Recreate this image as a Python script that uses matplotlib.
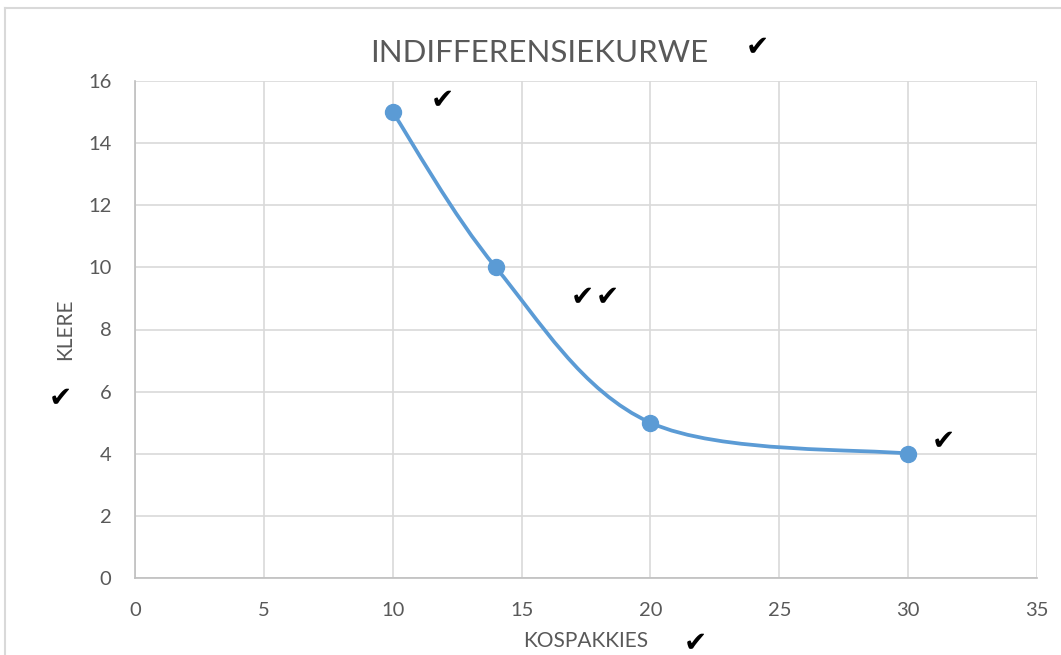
import matplotlib.pyplot as plt
import numpy as np
from matplotlib.path import Path
from matplotlib.patches import PathPatch
from matplotlib.lines import Line2D

# data
kospakkies = [10, 14, 20, 30]
klere = [15, 10, 5, 4]
x_ticks = [0, 5, 10, 15, 20, 25, 30, 35]
y_ticks = [0, 2, 4, 6, 8, 10, 12, 14, 16]

blue = '#5B9BD5'
grey_txt = '#595959'
grid_col = '#D9D9D9'
fam = ['Lato', 'DejaVu Sans']
plt.rcParams['font.family'] = fam

fig = plt.figure(figsize=(10.61, 6.55), dpi=100)
ax = fig.add_axes([135 / 1061, 1 - 578 / 655, (1037 - 135) / 1061, (578 - 81) / 655])

# smoothed line like excel (catmull-rom style bezier)
pts = np.column_stack([kospakkies, klere]).astype(float)
verts = [tuple(pts[0])]
codes = [Path.MOVETO]
n = len(pts)
for i in range(n - 1):
    p0 = pts[i - 1] if i > 0 else pts[i]
    p1 = pts[i]
    p2 = pts[i + 1]
    p3 = pts[i + 2] if i + 2 < n else pts[i + 1]
    c1 = p1 + (p2 - p0) / 6.0
    c2 = p2 - (p3 - p1) / 6.0
    verts += [tuple(c1), tuple(c2), tuple(p2)]
    codes += [Path.CURVE4] * 3
ax.add_patch(PathPatch(Path(verts, codes), facecolor='none', edgecolor=blue, lw=2.7, zorder=3))
ax.plot(kospakkies, klere, 'o', color=blue, ms=11.5, zorder=4)

ax.set_xlim(0, 35)
ax.set_ylim(0, 16)
ax.set_xticks(x_ticks)
ax.set_yticks(y_ticks)
ax.grid(True, color=grid_col, lw=1.2)
ax.set_axisbelow(True)
for s in ['top', 'right']:
    ax.spines[s].set_visible(False)
for s in ['left', 'bottom']:
    ax.spines[s].set_color('#BFBFBF')
    ax.spines[s].set_linewidth(1.2)
ax.tick_params(length=0, labelsize=14.5, colors=grey_txt)
ax.tick_params(axis='x', pad=17)
ax.tick_params(axis='y', pad=17)

ax.set_xlabel('KOSPAKKIES', fontsize=15, color=grey_txt, labelpad=9)
ax.set_ylabel('KLERE', fontsize=15, color=grey_txt, labelpad=9)
fig.text(539 / 1061, 1 - 53 / 655, 'INDIFFERENSIEKURWE', fontsize=22.5, color=grey_txt,
         ha='center', va='center')

# tick marks written on the chart
checks = [(757, 47), (442, 100), (582, 297), (607, 297), (943, 441), (60, 398), (695, 643)]
for cx, cy in checks:
    fig.text(cx / 1061, 1 - cy / 655, '\u2714', fontsize=20, color='black',
             ha='center', va='center', family=fam)

# chart border
fig.add_artist(Line2D([5 / 1061, 5 / 1061], [0, 1 - 8 / 655], transform=fig.transFigure,
                      color=grid_col, lw=1.5))
fig.add_artist(Line2D([5 / 1061, 1], [1 - 8 / 655, 1 - 8 / 655], transform=fig.transFigure,
                      color=grid_col, lw=1.5))

fig.savefig('out.png', dpi=100)
